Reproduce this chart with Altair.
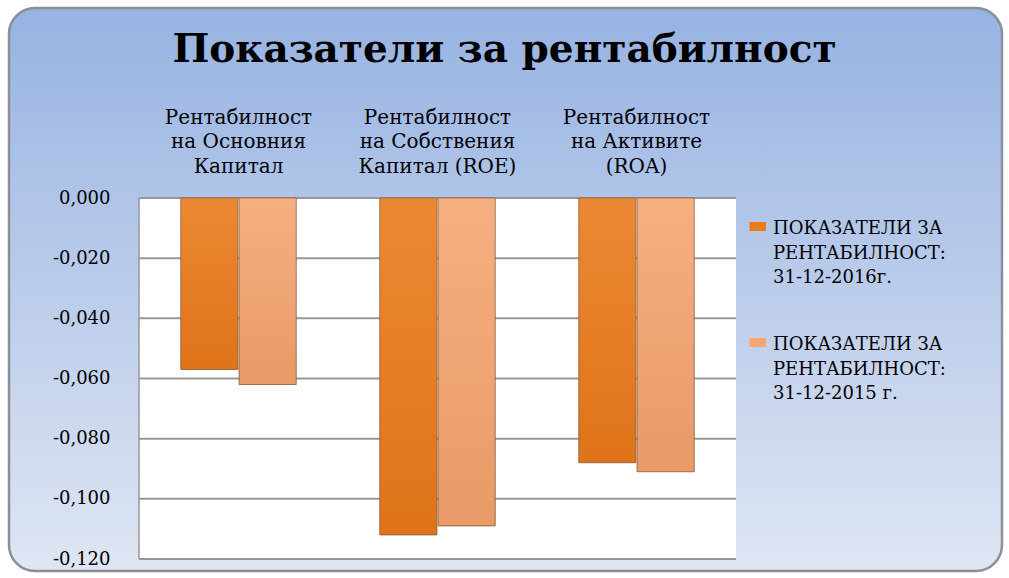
import altair as alt
import pandas as pd

# ---- data ----
CATEGORIES = [
    "Рентабилност\nна Основния\nКапитал",
    "Рентабилност\nна Собствения\nКапитал (ROE)",
    "Рентабилност\nна Активите\n(ROA)",
]
SERIES = [
    "ПОКАЗАТЕЛИ ЗА\nРЕНТАБИЛНОСТ:\n31-12-2016г.",
    "ПОКАЗАТЕЛИ ЗА\nРЕНТАБИЛНОСТ:\n31-12-2015 г.",
]
VALUES_2016 = [-0.057, -0.112, -0.088]
VALUES_2015 = [-0.062, -0.109, -0.091]
Y_TICKS = [0.0, -0.02, -0.04, -0.06, -0.08, -0.10, -0.12]
COLORS = ["#ea7b1c", "#f5a673"]
TITLE = "Показатели за рентабилност"

# ---- layout ----
W, H = 597, 361
PAD_L, PAD_T = 139, 198
FONT = "DejaVu Serif"

rows = []
for c, v in zip(CATEGORIES, VALUES_2016):
    rows.append({"cat": c, "series": SERIES[0], "value": v})
for c, v in zip(CATEGORIES, VALUES_2015):
    rows.append({"cat": c, "series": SERIES[1], "value": v})
df = pd.DataFrame(rows)
ticks_df = pd.DataFrame({"t": Y_TICKS})
one = pd.DataFrame({"a": [0]})

y_scale = alt.Scale(domain=[-0.12, 0], nice=False, zero=False)
x_scale = alt.Scale(domain=CATEGORIES, paddingInner=0.42, paddingOuter=0.21)

y_axis = alt.Axis(values=Y_TICKS, title=None, grid=False, domain=False, ticks=False,
                  labelExpr="replace(replace(format(datum.value, '.3f'), '.', ','), '\u2212', '-')",
                  labelFont=FONT, labelFontSize=18, labelPadding=29,
                  labelColor="black", zindex=1)

# background panel with vertical gradient and rounded border
bg = alt.Chart(one).mark_rect(
    cornerRadius=26,
    stroke="#8a8f99",
    strokeWidth=2.5,
    fill=alt.Gradient(
        gradient="linear",
        stops=[alt.GradientStop(color="#97b3e2", offset=0),
               alt.GradientStop(color="#dfe6f3", offset=1)],
        x1=0, x2=0, y1=0, y2=1,
    ),
).encode(
    x=alt.value(9 - PAD_L), x2=alt.value(1002 - PAD_L),
    y=alt.value(8 - PAD_T), y2=alt.value(571 - PAD_T),
)

# white plot area
plot_bg = alt.Chart(one).mark_rect(fill="white").encode(
    x=alt.value(0), x2=alt.value(W), y=alt.value(0), y2=alt.value(H)
)

grid = alt.Chart(ticks_df).mark_rule(color="#979797", strokeWidth=2).encode(
    y=alt.Y("t:Q", scale=y_scale, axis=y_axis),
    x=alt.value(0), x2=alt.value(W),
)
left_edge = alt.Chart(one).mark_rule(color="#979797", strokeWidth=1.5).encode(
    x=alt.value(0), y=alt.value(0), y2=alt.value(H)
)

bars = alt.Chart(df).mark_bar(stroke="#8b5a36", strokeWidth=1, strokeOpacity=0.8).encode(
    x=alt.X("cat:N", scale=x_scale, sort=CATEGORIES,
            axis=alt.Axis(orient="top", title=None, labelAngle=0, domain=False, ticks=False,
                          labelExpr="split(datum.label, '\\n')", labelFont=FONT,
                          labelFontSize=20, labelLineHeight=24.5, labelPadding=71,
                          labelColor="black", labelLimit=300, zindex=1)),
    xOffset=alt.XOffset("series:N", sort=SERIES, scale=alt.Scale(paddingInner=0.02)),
    y=alt.Y("value:Q", scale=y_scale, axis=y_axis),
    y2=alt.datum(0),
    color=alt.Color("series:N", sort=SERIES,
                    scale=alt.Scale(domain=SERIES, range=COLORS),
                    legend=alt.Legend(
                        title=None, orient="none", legendX=610, legendY=22,
                        labelExpr="split(datum.label, '\\n')",
                        labelFont=FONT, labelFontSize=18, labelColor="black",
                        labelLimit=300, labelOffset=6, rowPadding=49,
                        symbolType="M-1.7,-1.4H1.6V0.4H-1.7Z", symbolSize=100,
                        symbolStrokeWidth=0, zindex=1)),
)

shade = alt.Chart(df).mark_bar(
    fill=alt.Gradient(
        gradient="linear",
        stops=[alt.GradientStop(color="rgba(255,255,255,0.10)", offset=0),
               alt.GradientStop(color="rgba(120,50,0,0.10)", offset=1)],
        x1=0, x2=0, y1=0, y2=1,
    ),
).encode(
    x=alt.X("cat:N", scale=x_scale, sort=CATEGORIES),
    xOffset=alt.XOffset("series:N", sort=SERIES),
    y=alt.Y("value:Q", scale=y_scale),
    y2=alt.datum(0),
)

chart = alt.layer(bg, plot_bg, grid, left_edge, bars, shade).properties(
    width=W, height=H,
    autosize=alt.AutoSizeParams(type="none"),
    padding={"left": PAD_L, "top": PAD_T, "right": 1009 - PAD_L - W, "bottom": 578 - PAD_T - H},
    title=alt.TitleParams(TITLE, font=FONT, fontSize=39, fontWeight="bold", color="black",
                          anchor="middle", dx=67, dy=67, zindex=1),
).configure(
    background="white",
    view=alt.ViewConfig(stroke="transparent"),
    style={"guide-label": {"lineHeight": 24.5}},
)

chart.save("out.html", embed_options={"renderer": "svg", "actions": False})
